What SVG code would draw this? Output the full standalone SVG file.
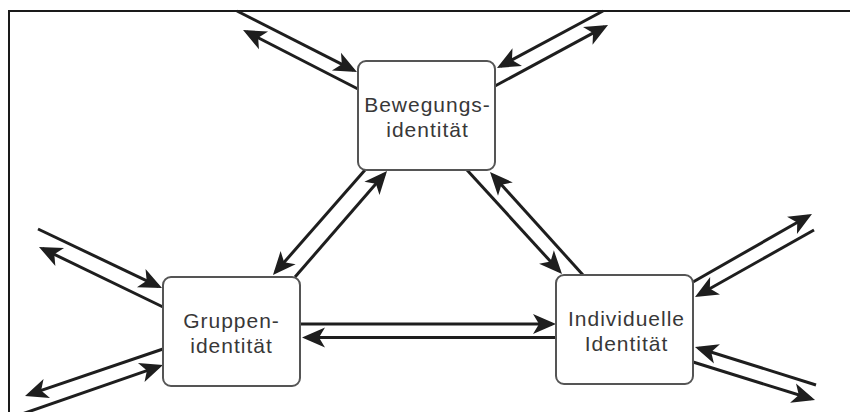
<svg xmlns="http://www.w3.org/2000/svg" width="850" height="412" viewBox="0 0 850 412">
<style>
.node rect{fill:#fff;stroke:#555;stroke-width:2}
.node text{font-family:"Liberation Sans",Arial,sans-serif;font-size:21px;letter-spacing:1px;fill:#383838;text-anchor:middle}
.conn line{stroke:#1e1e1e;stroke-width:3;fill:none;marker-end:url(#ah)}
.frame{stroke:#1a1a1a;stroke-width:2;fill:none}
</style>
<defs>
<marker id="ah" markerUnits="userSpaceOnUse" refX="0" refY="0" markerWidth="30" markerHeight="30" orient="auto" overflow="visible">
<path d="M4,0 L-19,-10 L-13,0 L-19,10 Z" fill="#1e1e1e"/>
</marker>
</defs>
<rect width="850" height="412" fill="#fff"/>
<path class="frame" d="M9,412 V11 H850"/>
<g id="connectors" class="conn">
<line x1="237" y1="11" x2="353.4" y2="70.2"/>
<line x1="358" y1="89" x2="246.6" y2="31.8"/>
<line x1="603" y1="11" x2="500.5" y2="66.1"/>
<line x1="495" y1="86" x2="604.5" y2="26.9"/>
<line x1="365" y1="170" x2="275.6" y2="272"/>
<line x1="295" y1="277" x2="384.4" y2="174"/>
<line x1="467" y1="170" x2="559.3" y2="271.1"/>
<line x1="583" y1="275" x2="492.7" y2="175"/>
<line x1="300" y1="324" x2="552" y2="324"/>
<line x1="556" y1="337.5" x2="306" y2="337.5"/>
<line x1="38" y1="229" x2="158.4" y2="286.3"/>
<line x1="163" y1="307" x2="42.6" y2="248.7"/>
<line x1="163" y1="349" x2="28.8" y2="394.7"/>
<line x1="22" y1="414" x2="159.2" y2="366.3"/>
<line x1="693" y1="282" x2="808.5" y2="216"/>
<line x1="814" y1="230" x2="698.5" y2="295"/>
<line x1="816" y1="385" x2="698.8" y2="348.2"/>
<line x1="693" y1="362" x2="811.2" y2="398.8"/>
</g>
<g id="node-bewegung" class="node">
<rect x="358" y="61" width="137" height="109" rx="8"/>
<text x="427.5" y="111.5">Bewegungs-</text>
<text x="427.5" y="136.5">identität</text>
</g>
<g id="node-gruppe" class="node">
<rect x="163" y="277" width="137" height="109" rx="8"/>
<text x="231.5" y="327.5">Gruppen-</text>
<text x="231.5" y="352.5">identität</text>
</g>
<g id="node-individuell" class="node">
<rect x="556" y="275" width="137" height="109" rx="8"/>
<text x="626.5" y="326">Individuelle</text>
<text x="626.5" y="351">Identität</text>
</g>
</svg>
